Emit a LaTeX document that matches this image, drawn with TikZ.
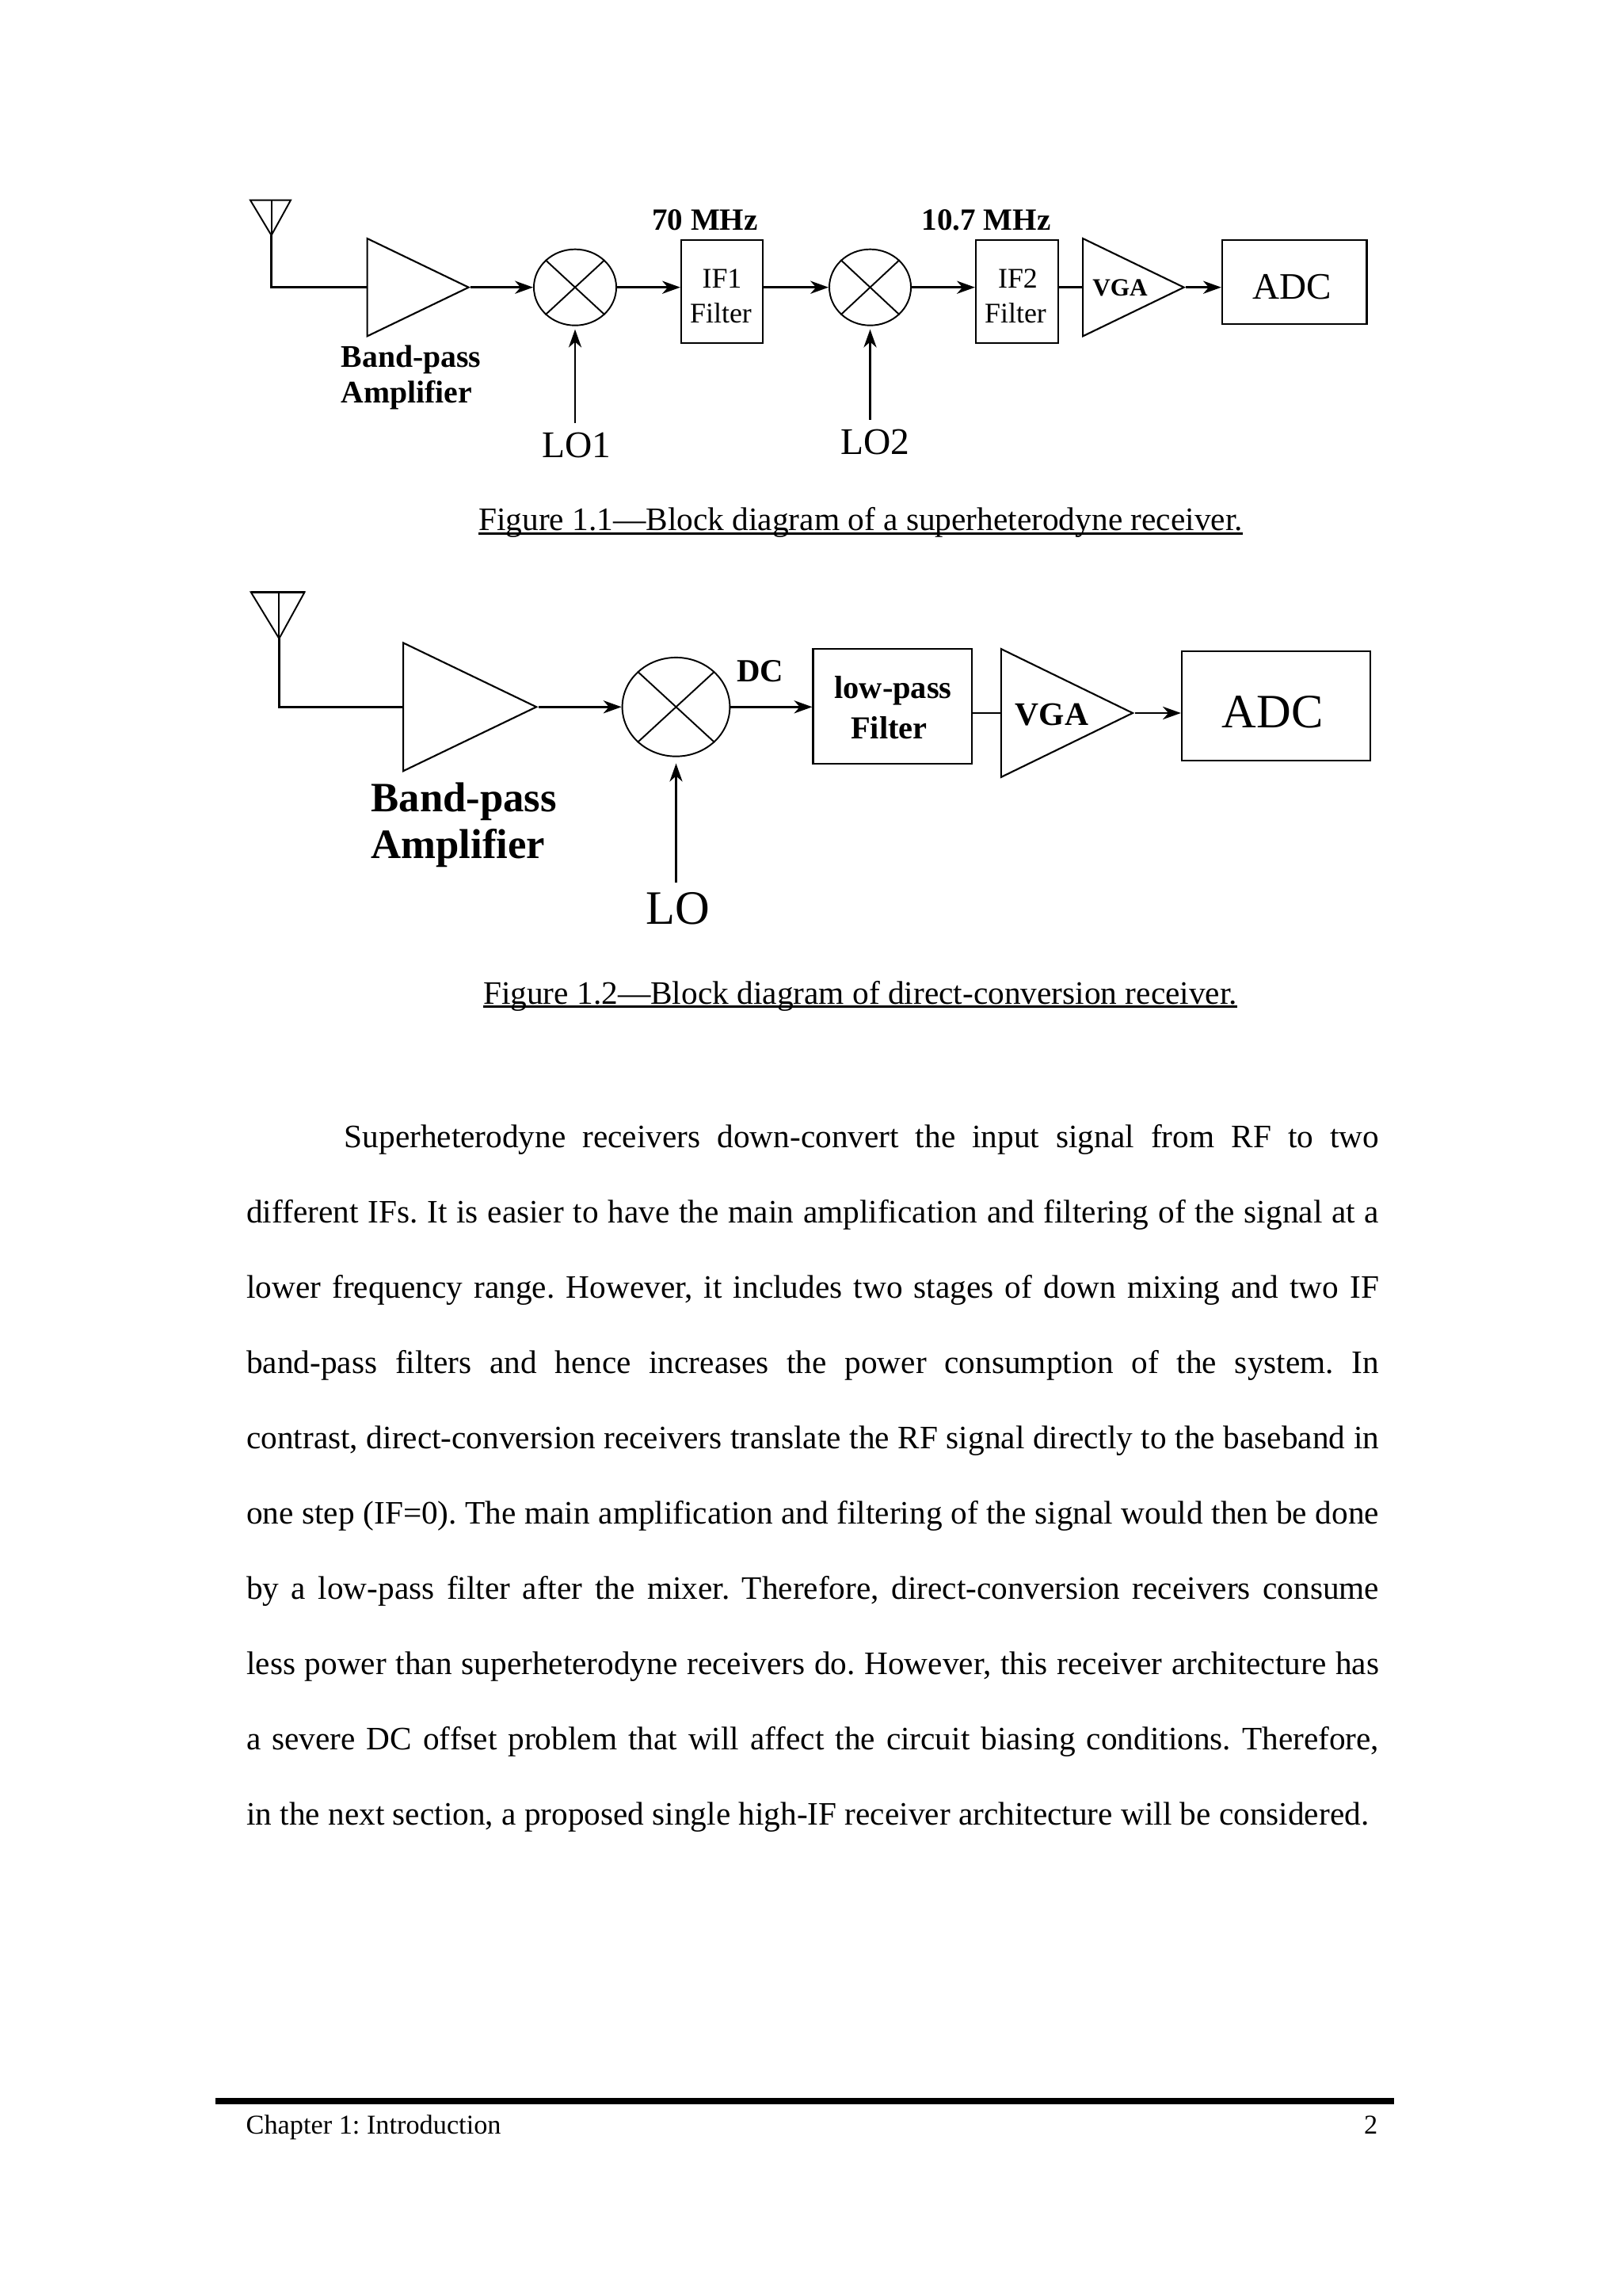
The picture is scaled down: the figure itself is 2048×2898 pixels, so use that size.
\documentclass[tikz,border=0pt]{standalone}
\usepackage{fontspec}
\setmainfont{Liberation Serif}
\usetikzlibrary{arrows.meta,shapes.geometric}
\newcommand{\pxfont}[1]{\fontsize{#1}{#1}\selectfont}
\newcommand{\lowrule}[1]{\setbox0=\hbox{#1}\rlap{\rule[-1.5pt]{\wd0}{0.8pt}}\box0}

\begin{document}
\begin{tikzpicture}[x=0.01cm,y=-0.01cm,
  thinline/.style={line width=0.55pt},
  sigline/.style={line width=0.8pt},
  sigarrow/.style={line width=0.8pt,-{Stealth[length=6.5pt,width=4.6pt,inset=2pt]}},
  loarrow/.style={line width=0.6pt,-{Stealth[length=6.5pt,width=4.6pt,inset=2pt]}},
  blockbox/.style={draw,line width=0.6pt,inner sep=0pt},
  mixer/.style={draw,ellipse,line width=0.55pt,inner sep=0pt},
  amp/.style={draw,isosceles triangle,isosceles triangle stretches,line width=0.6pt,inner sep=0pt,anchor=lower side},
  lab/.style={inner sep=0pt},
  lolab/.style={inner sep=0pt,outer sep=0.12cm},
  boldlab/.style={inner sep=0pt,font=\bfseries}]
  \useasboundingbox (0,0) rectangle (2048,2898);

  \coordinate (ant1top) at (342.6,252.7);
  \coordinate (ant1tip) at (342.6,297);
  \draw[thinline] (ant1tip) -- (316,252.7) -- (367,252.7) -- cycle;
  \draw[thinline] (ant1top) -- (ant1tip);
  \node[amp,minimum width=1.233cm,minimum height=1.28cm] (amp1) at (462.5,362.7) {};
  \node[mixer,minimum width=1.04cm,minimum height=0.96cm] (mix1) at (726,362.7) {};
  \node[blockbox,minimum width=1.03cm,minimum height=1.306cm] (if1) at (911.5,368) {};
  \node[mixer,minimum width=1.03cm,minimum height=0.96cm] (mix2) at (1098.5,362.7) {};
  \node[blockbox,minimum width=1.04cm,minimum height=1.306cm] (if2) at (1284,368) {};
  \node[amp,minimum width=1.233cm,minimum height=1.275cm] (vga1) at (1366,362.7) {};
  \node[blockbox,minimum width=1.825cm,minimum height=1.066cm] (adc1) at (1634.2,356) {};
  \node[lolab,font=\pxfont{13.5}] (lo1) at (728,561.7) {LO1};
  \node[lolab,font=\pxfont{13.5}] (lo2) at (1105,558) {LO2};
  \node[boldlab,font=\bfseries\pxfont{11.1}] (freq1) at (890,277.7) {70 MHz};
  \node[boldlab,font=\bfseries\pxfont{11.1}] (freq2) at (1245,277.7) {10.7 MHz};
  \node[boldlab,font=\bfseries\pxfont{11.3},anchor=base west] (bp1) at (430,464) {Band-pass};
  \node[boldlab,font=\bfseries\pxfont{11.3},anchor=base west] (am1) at (430,509) {Amplifier};
  \node[lab,font=\pxfont{10.2}] (iftxt1) at (911.5,351.7) {IF1};
  \node[lab,font=\pxfont{10.2}] (fil1) at (910,395.7) {Filter};
  \node[lab,font=\pxfont{10.2}] (iftxt2) at (1285,351.7) {IF2};
  \node[lab,font=\pxfont{10.2}] (fil2) at (1282,395.7) {Filter};
  \node[boldlab,font=\bfseries\pxfont{8.9}] (vgatxt1) at (1414,363.3) {VGA};
  \node[lab,font=\pxfont{13.4}] (adctxt1) at (1631,361.7) {ADC};
  \draw[thinline] (mix1.north west) -- (mix1.south east);
  \draw[thinline] (mix1.north east) -- (mix1.south west);
  \draw[thinline] (mix2.north west) -- (mix2.south east);
  \draw[thinline] (mix2.north east) -- (mix2.south west);
  \draw[sigline] (ant1tip) |- (amp1.lower side);
  \draw[sigarrow] (amp1.apex) -- (mix1.west);
  \draw[sigarrow] (mix1.east) -- (if1.west |- mix1.east);
  \draw[sigarrow] (if1.east |- mix2.west) -- (mix2.west);
  \draw[sigarrow] (mix2.east) -- (if2.west |- mix2.east);
  \draw[sigline] (if2.east |- vga1.lower side) -- (vga1.lower side);
  \draw[sigarrow] (vga1.apex) -- (adc1.west |- vga1.apex);
  \draw[loarrow,shorten >=0.04cm] (lo1.north -| mix1.south) -- (mix1.south);
  \draw[loarrow,shorten >=0.04cm] (lo2.north -| mix2.south) -- (mix2.south);

  \node[font=\pxfont{11.76},lab,anchor=base] (cap1) at (1086.5,670) {\lowrule{Figure 1.1---Block diagram of a superheterodyne receiver.}};

  \coordinate (ant2top) at (352.4,747.3);
  \coordinate (ant2tip) at (352.4,806);
  \draw[thinline] (ant2tip) -- (316.7,747.3) -- (384.6,747.3) -- cycle;
  \draw[sigline] (316.7,747.3) -- (384.6,747.3);
  \draw[thinline] (ant2top) -- (ant2tip);
  \node[amp,minimum width=1.617cm,minimum height=1.68cm] (amp2) at (508,892.3) {};
  \node[mixer,minimum width=1.357cm,minimum height=1.247cm] (mix3) at (853.5,892.3) {};
  \node[blockbox,minimum width=2.005cm,minimum height=1.45cm] (lpf) at (1126.8,891.8) {};
  \node[amp,minimum width=1.617cm,minimum height=1.66cm] (vga2) at (1262.8,900) {};
  \node[blockbox,minimum width=2.38cm,minimum height=1.386cm] (adc2) at (1611,891) {};
  \node[lolab,font=\pxfont{17.2}] (lo3) at (855.5,1146.7) {LO};
  \node[boldlab,font=\bfseries\pxfont{11.6}] (dc) at (959.6,847.3) {DC};
  \node[boldlab,font=\bfseries\pxfont{15},anchor=base west] (bp2) at (467.8,1024) {Band-pass};
  \node[boldlab,font=\bfseries\pxfont{15},anchor=base west] (am2) at (467.8,1083) {Amplifier};
  \node[boldlab,font=\bfseries\pxfont{11.5}] (lptxt) at (1127.5,871.7) {low-pass};
  \node[boldlab,font=\bfseries\pxfont{11.5}] (fil3) at (1122.5,918.3) {Filter};
  \node[boldlab,font=\bfseries\pxfont{11.8}] (vgatxt2) at (1328,901.7) {VGA};
  \node[lab,font=\pxfont{17.2}] (adctxt2) at (1606.5,898.3) {ADC};
  \draw[thinline] (mix3.north west) -- (mix3.south east);
  \draw[thinline] (mix3.north east) -- (mix3.south west);
  \draw[sigline] (ant2tip) |- (amp2.lower side);
  \draw[sigarrow] (amp2.apex) -- (mix3.west);
  \draw[sigarrow] (mix3.east) -- (lpf.west |- mix3.east);
  \draw[sigline] (lpf.east |- vga2.lower side) -- (vga2.lower side);
  \draw[sigarrow] (vga2.apex) -- (adc2.west |- vga2.apex);
  \draw[loarrow,shorten >=0.08cm] (lo3.north -| mix3.south) -- (mix3.south);

  \node[font=\pxfont{11.76},lab,anchor=base] (cap2) at (1086,1267) {\lowrule{Figure 1.2---Block diagram of direct-conversion receiver.}};

  \node[lab,anchor=north west,text width=14.29cm,align=justify,font=\fontsize{11.74}{27}\selectfont] (body) at (310.5,1419) {\frenchspacing\tolerance=9999\hspace*{1.235cm}Superheterodyne receivers down-convert the input signal from RF to two\linebreak
  different IFs. It is easier to have the main amplification and filtering of the signal at a\linebreak
  lower frequency range. However, it includes two stages of down mixing and two IF\linebreak
  band-pass filters and hence increases the power consumption of the system. In\linebreak
  contrast, direct-conversion receivers translate the RF signal directly to the baseband in\linebreak
  one step (IF=0). The main amplification and filtering of the signal would then be done\linebreak
  by a low-pass filter after the mixer. Therefore, direct-conversion receivers consume\linebreak
  less power than superheterodyne receivers do. However, this receiver architecture has\linebreak
  a severe DC offset problem that will affect the circuit biasing conditions. Therefore,\linebreak
  in the next section, a proposed single high-IF receiver architecture will be considered.};

  \fill (272,2647.5) rectangle (1760,2655.5);
  \node[lab,anchor=base west,font=\frenchspacing\pxfont{9.75}] (foot) at (310,2693) {Chapter 1: Introduction};
  \node[lab,anchor=base east,font=\pxfont{9.75}] (pagenum) at (1740,2693) {2};
\end{tikzpicture}
\end{document}
